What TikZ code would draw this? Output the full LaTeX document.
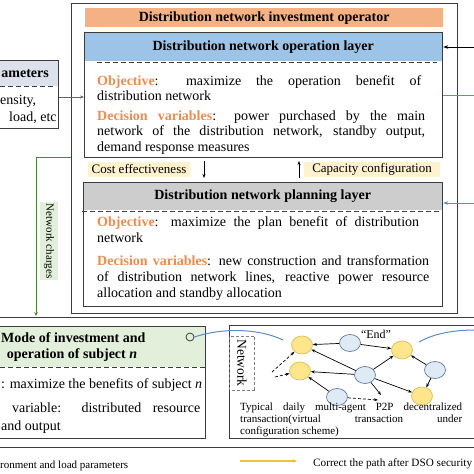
\documentclass[tikz,border=0pt]{standalone}
\usepackage{fontspec}
\setmainfont{Liberation Serif}
\usetikzlibrary{arrows.meta,shapes.geometric,calc}
\definecolor{boxline}{RGB}{60,60,60}
\definecolor{orangehd}{RGB}{244,177,131}
\definecolor{bluehd}{RGB}{157,195,230}
\definecolor{grayhd}{RGB}{205,205,205}
\definecolor{greenhd}{RGB}{226,239,218}
\definecolor{paramhd}{RGB}{220,225,235}
\definecolor{kwc}{RGB}{236,140,80}
\definecolor{tagbg}{RGB}{255,242,204}
\definecolor{ylnode}{RGB}{255,230,140}
\definecolor{ylborder}{RGB}{220,190,90}
\definecolor{blnode}{RGB}{222,235,247}
\definecolor{blborder}{RGB}{100,120,160}
\definecolor{linkblue}{RGB}{90,140,200}
\definecolor{chargegreen}{RGB}{84,130,53}
\definecolor{chargebg}{RGB}{226,239,218}
\definecolor{legendyellow}{RGB}{242,196,48}
\newcommand\kw[1]{\textcolor{kwc}{\textbf{#1}}}
\newcommand\jst[2]{\makebox[#1][s]{#2}}
\tikzset{
  frame/.style={draw=boxline, line width=1.2pt, anchor=north west, inner sep=0pt},
  hdr/.style={anchor=north west, inner sep=0pt, font=\bfseries\fontsize{14}{16}\selectfont},
  body/.style={anchor=base west, inner sep=0pt, font=\fontsize{14}{16}\selectfont},
  sep/.style={draw=boxline, line width=0.9pt, dash pattern=on 5pt off 3pt},
  tag/.style={fill=tagbg, inner sep=0pt, font=\fontsize{13}{15}\selectfont},
  ynode/.style={ellipse, draw=ylborder, fill=ylnode, line width=0.7pt, minimum width=21pt, minimum height=18pt, inner sep=0pt},
  bnode/.style={ellipse, draw=blborder, fill=blnode, line width=0.7pt, minimum width=21pt, minimum height=17pt, inner sep=0pt},
  garrow/.style={draw=black, line width=0.7pt, -{Stealth[length=4pt,width=3pt]}},
  gdash/.style={garrow, densely dashed},
  small/.style={inner sep=0pt, font=\fontsize{11}{12}\selectfont}
}
\begin{document}
\begin{tikzpicture}[x=1pt,y=-1pt]
\useasboundingbox (0,0) rectangle (474,474);
% outer operator frame
\node[frame, line width=1pt, minimum width=386pt, minimum height=310pt] (outer) at (71,3) {};
\node[hdr, fill=orangehd, minimum width=358pt, minimum height=19pt] (inv) at (85,8) {Distribution network investment operator};
% operation layer
\node[hdr, fill=bluehd, minimum width=358pt, minimum height=29pt] (ophd) at (84,32) {Distribution network operation layer};
\node[frame, minimum width=358pt, minimum height=125pt] (op) at (84,32) {};
\draw[sep] (97,62) -- (437,62);
\node[body] (op1) at (97,85) {\jst{324pt}{\kw{Objective}: maximize the operation benefit of}};
\node[body] (op2) at (97,100) {distribution network};
\node[body] (op3) at (97,120) {\jst{328pt}{\kw{Decision variables}: power purchased by the main}};
\node[body] (op4) at (97,135) {\jst{328pt}{network of the distribution network, standby output,}};
\node[body] (op5) at (97,151) {demand response measures};
% tags
\node[tag, minimum width=102pt, minimum height=15pt] (cost) at (139,169) {Cost effectiveness};
\node[tag, minimum width=136pt, minimum height=15pt] (cap) at (372,169) {Capacity configuration};
\coordinate (ca1) at (204,161);
\coordinate (ca2) at (204,178);
\coordinate (cb1) at (299,178);
\coordinate (cb2) at (299,161);
\draw[garrow] (ca1) -- (ca2);
\draw[garrow] (cb1) -- (cb2);
% planning layer
\node[hdr, fill=grayhd, minimum width=359pt, minimum height=28pt] (plhd) at (83,182) {Distribution network planning layer};
\node[frame, minimum width=359pt, minimum height=124pt] (pl) at (83,182) {};
\draw[sep] (82,211) -- (441,211);
\node[body] (pl1) at (97,226) {\jst{322pt}{\kw{Objective}: maximize the plan benefit of distribution}};
\node[body] (pl2) at (97,242) {network};
\node[body] (pl3) at (97,265) {\jst{332pt}{\kw{Decision variables}: new construction and transformation}};
\node[body] (pl4) at (97,281) {\jst{332pt}{of distribution network lines, reactive power resource}};
\node[body] (pl5) at (97,297) {allocation and standby allocation};
% parameters box (cut at the left edge)
\node[hdr, fill=paramhd, minimum width=88pt, minimum height=26pt] (parhd) at (-30,60) {};
\node[frame, minimum width=88pt, minimum height=68pt] (par) at (-30,60) {};
\draw[sep] (0,86) -- (56,86);
\node[anchor=base east, inner sep=0pt, font=\bfseries\fontsize{14}{16}\selectfont] (part) at (49,77) {ameters};
\node[body] (par1) at (0,104) {ensity,};
\node[body] (par2) at (9,121) {load, etc};
\draw[draw=boxline!80, line width=0.8pt, -{Stealth[length=4pt,width=3pt]}] (par.east |- 0,97) -- (op.west |- 0,97);
% right side connectors
\coordinate (rin1) at (476,47);
\coordinate (rin2) at (476,95);
\coordinate (rin3) at (476,203);
\draw[draw=black, line width=0.8pt, -{Stealth[length=5pt,width=3.5pt]}] (rin1) -- (op.east |- 0,47);
\draw[draw=linkblue, line width=0.9pt] (op.east |- 0,95) -- (rin2);
\draw[draw=linkblue, line width=0.9pt, -{Stealth[length=5pt,width=3.5pt]}] (rin3) -- (pl.east |- 0,203);
% network charges
\coordinate (gc1) at (71,157);
\coordinate (gc2) at (36,316);
\draw[draw=chargegreen, line width=0.9pt, -{Stealth[length=4pt,width=3.5pt]}] (gc1) -| (gc2);
\node[fill=chargebg, rotate=-90, inner sep=2pt, minimum height=18pt, font=\fontsize{11}{13}\selectfont] (charge) at (49,241) {Network charges};
% bottom frame
\node[frame, line width=1.3pt, minimum width=490pt, minimum height=130pt] (bottom) at (-8,317) {};
% mode box
\node[hdr, fill=greenhd, minimum width=274pt, minimum height=41pt] (mohd) at (-69,326) {};
\node[frame, minimum width=274pt, minimum height=112pt] (mo) at (-69,326) {};
\draw[sep] (0,367) -- (207,367);
\node[anchor=base west, inner sep=0pt, font=\bfseries\fontsize{14}{16}\selectfont] (mot1) at (1,342) {Mode of investment and};
\node[anchor=base, inner sep=0pt, font=\bfseries\fontsize{14}{16}\selectfont] (mot2) at (72,358) {operation of subject \textit{n}};
\node[circle, draw=boxline, line width=0.8pt, fill=greenhd, minimum size=8pt, inner sep=0pt] (mc) at (190,337) {};
\node[body] (mo1) at (1,388) {: maximize the benefits of subject \textit{n}};
\node[body] (mo2) at (12,412) {\jst{188pt}{variable: distributed resource}};
\node[body] (mo3) at (1,430) {and output};
% network box
\node[frame, minimum width=260pt, minimum height=113pt] (net) at (229,325) {};
\node[draw=gray, line width=0.8pt, densely dashed, rotate=-90, minimum width=54pt, minimum height=25pt, inner sep=0pt, font=\fontsize{13.5}{15}\selectfont] (netlab) at (242,363) {Network};
\coordinate (bc1) at (283,340);
\draw[draw=linkblue, line width=1pt] (mc.east) .. controls (225,327) and (260,329) .. (bc1);
\coordinate (rc1) at (419,342);
\coordinate (rc2) at (476,330);
\draw[draw=linkblue, line width=1pt] (rc1) .. controls (435,333) and (455,330) .. (rc2);
% graph
\node[bnode] (b4) at (337,397) {};
\node[ynode] (y1) at (302,345) {};
\node[ynode] (y2) at (300,371) {};
\node[ynode] (y3) at (402,350) {};
\node[ynode] (y4) at (422,396) {};
\node[bnode] (b1) at (350,343) {};
\node[bnode] (b2) at (365,375) {};
\node[bnode] (b3) at (435,370) {};
\node[small, font=\fontsize{12}{13}\selectfont] (endl) at (376,334) {“End”};
\draw[garrow] (b1) -- (y1);
\draw[garrow] (b1) -- (y3);
\draw[garrow] (b2) -- (y1);
\draw[garrow] (b2) -- (y2);
\draw[garrow] (b2) -- (y3);
\draw[garrow] (b2) -- (y4);
\coordinate (g1) at (381,395);
\draw[garrow] (b2) -- (g1);
\draw[garrow] (b3) -- (y3);
\draw[garrow] (b3) -- (y4);
\draw[garrow] (b4) -- (y2);
\coordinate (g2) at (378,400);
\draw[gdash] (b4) -- (g2);
\coordinate (g3) at (272,372);
\coordinate (g4) at (275,377);
\draw[gdash] (g3) -- (y1);
\draw[gdash] (g4) -- (y2);
\node[small, anchor=base west] (tx1) at (240,410) {\jst{222pt}{Typical daily multi-agent P2P decentralized}};
\node[small, anchor=base west] (tx2) at (240,422) {\jst{222pt}{transaction(virtual transaction under}};
\node[small, anchor=base west] (tx3) at (240,434) {configuration scheme)};
% legend
\node[small, anchor=base west] (lg0) at (0,468) {ronment and load parameters};
\coordinate (lg1) at (240,461);
\coordinate (lg2) at (297,461);
\draw[draw=legendyellow, line width=1.2pt, -{Stealth[length=4pt,width=3.5pt]}] (lg1) -- (lg2);
\node[small, anchor=base west, font=\fontsize{11.2}{12}\selectfont] (lg3) at (313,466) {Correct the path after DSO security};
\end{tikzpicture}
\end{document}
